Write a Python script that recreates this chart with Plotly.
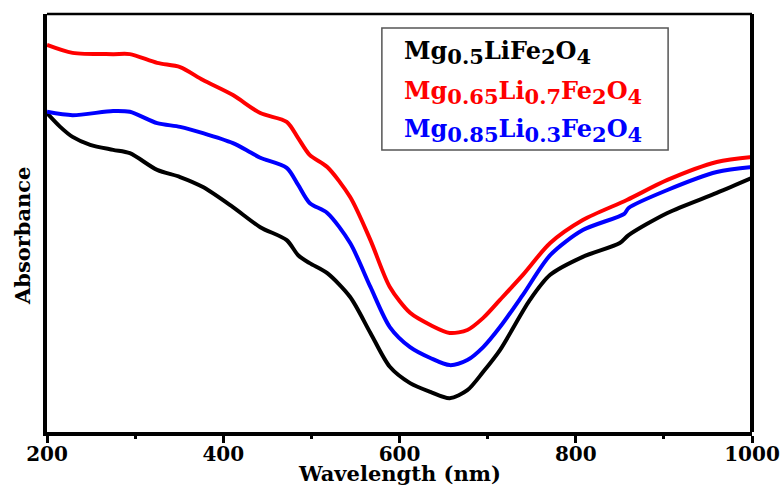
import plotly.graph_objects as go

# Wavelength (nm) and absorbance (a.u.)
wl_black = [200, 215, 229, 249, 275, 294, 325, 351, 377, 411, 442, 472, 485, 498, 518, 544, 567, 589, 612, 635, 657, 677, 695, 714, 748, 771, 808, 850, 860, 904, 960, 1000]
abs_black = [0.763, 0.730, 0.706, 0.687, 0.675, 0.667, 0.627, 0.610, 0.586, 0.538, 0.490, 0.459, 0.423, 0.404, 0.380, 0.323, 0.237, 0.156, 0.117, 0.096, 0.081, 0.100, 0.144, 0.196, 0.316, 0.376, 0.419, 0.452, 0.471, 0.524, 0.572, 0.608]

wl_red = [200, 229, 275, 294, 325, 351, 377, 411, 442, 472, 485, 498, 518, 544, 567, 589, 612, 635, 657, 677, 695, 714, 740, 771, 808, 858, 904, 960, 1000]
abs_red = [0.926, 0.907, 0.904, 0.904, 0.883, 0.873, 0.842, 0.806, 0.763, 0.742, 0.703, 0.663, 0.634, 0.562, 0.459, 0.347, 0.285, 0.256, 0.237, 0.244, 0.273, 0.316, 0.376, 0.452, 0.507, 0.555, 0.603, 0.646, 0.658]

wl_blue = [200, 229, 275, 294, 325, 351, 377, 411, 430, 442, 472, 485, 498, 518, 544, 567, 589, 612, 635, 657, 677, 695, 714, 740, 771, 808, 855, 860, 904, 960, 1000]
abs_blue = [0.766, 0.758, 0.768, 0.766, 0.739, 0.730, 0.715, 0.691, 0.670, 0.656, 0.632, 0.591, 0.548, 0.524, 0.452, 0.347, 0.251, 0.203, 0.177, 0.160, 0.172, 0.203, 0.251, 0.328, 0.423, 0.483, 0.522, 0.536, 0.579, 0.622, 0.634]

x_ticks = [200, 400, 600, 800, 1000]
x_title = "Wavelength (nm)"
y_title = "Absorbance"


def sub(t):
    return "<sub><span style='font-size:21px'>" + t + "</span></sub>"


labels = [
    "Mg" + sub("0.5") + "LiFe" + sub("2") + "O" + sub("4"),
    "Mg" + sub("0.65") + "Li" + sub("0.7") + "Fe" + sub("2") + "O" + sub("4"),
    "Mg" + sub("0.85") + "Li" + sub("0.3") + "Fe" + sub("2") + "O" + sub("4"),
]
colors = ["#000000", "#ff0000", "#0000ff"]

FONT = "DejaVu Serif"

fig = go.Figure()
for wl, ab, c in [(wl_black, abs_black, colors[0]), (wl_red, abs_red, colors[1]), (wl_blue, abs_blue, colors[2])]:
    fig.add_trace(go.Scatter(x=wl, y=ab, mode="lines",
                             line=dict(color=c, width=4, shape="spline", smoothing=0.8),
                             showlegend=False, hoverinfo="skip"))

fig.update_layout(
    template="none",
    width=783, height=487,
    margin=dict(l=47, r=31, t=14, b=55, autoexpand=False),
    paper_bgcolor="white", plot_bgcolor="white",
    font=dict(family=FONT, color="black"),
)
fig.update_xaxes(
    automargin=False,
    range=[200, 1000], tickvals=x_ticks, ticktext=[str(v) for v in x_ticks],
    showgrid=False, zeroline=False,
    showline=True, linecolor="black", linewidth=4,
    ticks="outside", ticklen=7, tickwidth=3, tickcolor="black",
    ticklabelstandoff=-6,
    minor=dict(ticks="outside", dtick=100, tick0=200, ticklen=3, tickwidth=3, tickcolor="black", showgrid=False),
    tickfont=dict(family=FONT, size=20, color="black", weight="bold"),
)
fig.update_yaxes(
    automargin=False,
    range=[0, 1], showgrid=False, zeroline=False,
    showline=True, linecolor="black", linewidth=4,
    showticklabels=False, ticks="",
)

# frame: top and right
fig.add_shape(type="line", xref="paper", yref="paper", x0=0, x1=1, y0=1, y1=1,
              line=dict(color="black", width=2.5))
fig.add_shape(type="line", xref="paper", yref="paper", x0=1, x1=1, y0=0, y1=1,
              line=dict(color="black", width=4))

# legend box
fig.add_shape(type="rect", xref="paper", yref="paper", x0=0.475, x1=0.881, y0=0.6746, y1=0.9665,
              line=dict(color="#555555", width=1.5), fillcolor="white", layer="above")

legend_y = [0.909, 0.813, 0.722]
for lab, c, yy in zip(labels, colors, legend_y):
    fig.add_annotation(text="<b>" + lab + "</b>", xref="paper", yref="paper",
                       x=0.5035, y=yy, xanchor="left", yanchor="middle", showarrow=False,
                       font=dict(family=FONT, size=24, color=c))

fig.add_annotation(text="<b>" + x_title + "</b>", xref="paper", yref="paper",
                   x=0.5, y=-0.099, xanchor="center", yanchor="middle", showarrow=False,
                   font=dict(family=FONT, size=21, color="black"))
fig.add_annotation(text="<b>" + y_title + "</b>", xref="paper", yref="paper",
                   x=-0.0355, y=0.471, xanchor="center", yanchor="middle", showarrow=False,
                   textangle=-90, font=dict(family=FONT, size=21, color="black"))

fig.write_html("out.html")
